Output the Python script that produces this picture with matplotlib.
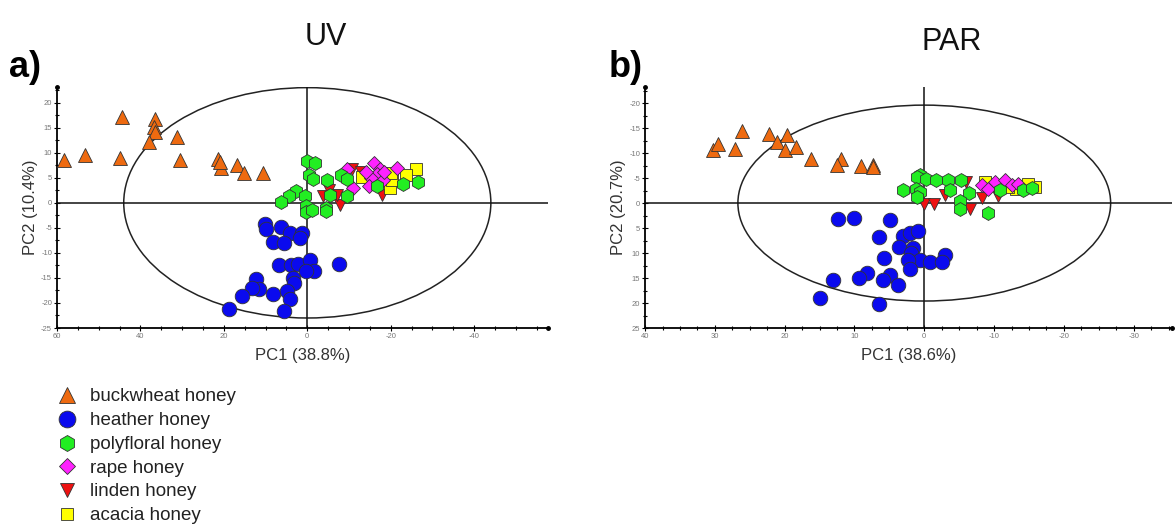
import matplotlib
matplotlib.use('Agg')
import matplotlib.pyplot as plt
from matplotlib.patches import Ellipse
from matplotlib.ticker import MultipleLocator, FuncFormatter

plt.rcParams['font.family'] = ['Liberation Sans', 'DejaVu Sans']

# --- data: PCA scores ---
groups = ['buckwheat honey', 'heather honey', 'polyfloral honey',
          'rape honey', 'linden honey', 'acacia honey']

# a) UV
uv_buckwheat_x = [58.2, 53.4, 44.4, 45.0, 36.6, 36.8, 36.6, 38.0, 31.2, 30.6, 21.4, 20.8, 21.0, 16.8, 15.2, 10.6]
uv_buckwheat_y = [8.6, 9.6, 17.2, 8.9, 16.7, 15.2, 14.2, 12.2, 13.2, 8.6, 8.7, 6.9, 8.2, 7.6, 6.0, 5.9]
uv_heather_x = [10.2, 10.0, 6.2, 4.2, 1.2, 1.8, 8.2, 5.6, 6.8, 4.0, 2.2, -0.6, -1.6, 0.4, -7.6, 3.4,
                3.2, 12.2, 11.6, 13.2, 15.6, 8.2, 4.8, 4.2, 5.6, 18.7]
uv_heather_y = [-4.2, -5.2, -4.9, -6.0, -6.0, -7.1, -7.9, -8.0, -12.4, -12.4, -12.2, -11.4, -13.7, -13.7, -12.2, -15.0,
                -16.0, -15.3, -17.2, -17.0, -18.7, -18.3, -17.7, -19.3, -21.7, -21.2]
uv_poly_x = [0.0, -1.8, -0.4, -1.4, -4.8, -8.0, -9.6, 2.8, 4.4, 6.4, 0.6, 0.2, 0.4, -1.2, -4.6, -4.4,
             -5.4, -9.6, -16.8, -23.0, -26.6]
uv_poly_y = [8.4, 8.0, 5.6, 4.7, 4.6, 5.6, 4.7, 2.3, 1.3, 0.1, 1.4, -0.7, -1.9, -1.5, -1.1, -1.7,
             1.6, 1.4, 3.3, 3.7, 4.1]
uv_rape_x = [-9.6, -11.0, -16.0, -17.4, -16.8, -15.2, -18.2, -21.6, -14.8, -18.4, -14.0]
uv_rape_y = [6.7, 2.9, 7.9, 6.7, 5.7, 4.9, 4.6, 6.9, 3.4, 6.2, 6.2]
uv_linden_x = [-10.6, -12.8, -3.8, -7.8, -18.0, -5.2, -7.2]
uv_linden_y = [6.7, 6.2, 1.3, -0.4, 1.6, 2.6, 1.6]
uv_acacia_x = [-26.0, -13.2, -19.8, -20.4, -23.6, -20.0]
uv_acacia_y = [6.7, 5.2, 2.9, 4.6, 5.6, 5.9]

# b) PAR
par_buckwheat_x = [30.2, 29.6, 27.1, 26.1, 22.3, 21.1, 19.7, 20.0, 18.4, 16.3, 11.9, 12.5, 9.0, 7.4, 7.3]
par_buckwheat_y = [-10.6, -11.9, -10.9, -14.4, -13.9, -12.2, -13.6, -10.7, -11.2, -8.9, -8.9, -7.6, -7.4, -7.6, -7.2]
par_heather_x = [12.4, 10.0, 4.9, 6.5, 3.0, 2.0, 0.9, 3.6, 1.6, 1.9, 5.7, 0.6, -0.8, 2.3, 2.0, -2.9, -2.5,
                 8.2, 9.3, 4.9, 5.9, 3.8, 13.1, 14.9, 6.5]
par_heather_y = [3.1, 2.9, 3.3, 6.7, 6.6, 5.9, 5.6, 8.7, 8.9, 10.0, 11.0, 11.4, 11.7, 11.4, 13.2, 10.4, 11.7,
                 13.9, 15.0, 14.4, 15.3, 16.3, 15.3, 19.0, 20.1]
par_poly_x = [0.6, 1.1, -0.2, -1.7, -3.4, -5.2, 3.0, 1.2, 0.6, 1.1, -3.7, -6.4, -5.1, -5.1, -9.1, -10.9, -14.1, -15.5]
par_poly_y = [-5.7, -5.2, -4.9, -4.7, -4.7, -4.6, -2.7, -2.9, -2.3, -1.3, -2.7, -2.1, -0.5, 1.1, 1.9, -2.7, -2.6, -3.1]
par_rape_x = [-8.2, -10.1, -11.5, -9.1, -12.5, -13.4]
par_rape_y = [-3.6, -4.3, -4.6, -2.9, -3.6, -3.9]
par_linden_x = [0.0, -1.4, -3.0, -6.5, -8.2, -10.5, -6.0]
par_linden_y = [0.2, 0.1, -1.6, 1.1, -1.1, -1.4, -4.3]
par_acacia_x = [-8.7, -15.8, -14.8, -13.2, -12.0]
par_acacia_y = [-4.3, -3.3, -3.9, -2.9, -3.3]

# Hotelling ellipse semi-axes
uv_ellipse = (44.0, 23.0)
par_ellipse = (26.7, 19.6)

# --- styling ---
markers = ['^', 'o', 'h', 'D', 'v', 's']
colors = ['#EE6A10', '#0A0AEE', '#22EE22', '#FF22FF', '#EE1111', '#FFFF00']
sizes = [9.5, 10.5, 10, 7.5, 8.5, 8]
zorders = [4, 4, 6, 5, 4, 4]


def draw_panel(ax, series, ellipse, xlim, ylim, xmaj, xlabel, ylabel):
    ax.add_patch(Ellipse((0, 0), 2 * ellipse[0], 2 * ellipse[1], fill=False,
                         edgecolor='#222222', lw=1.1, zorder=2))
    ax.axhline(0, color='#111111', lw=1.1, zorder=2)
    ax.axvline(0, color='#111111', lw=1.1, zorder=2)
    handles = []
    for i, (xs, ys) in enumerate(series):
        h, = ax.plot(xs, ys, linestyle='none', marker=markers[i], ms=sizes[i],
                     mfc=colors[i], mec='#333333', mew=0.6, zorder=zorders[i],
                     label=groups[i])
        handles.append(h)
    ax.set_xlim(*xlim)
    ax.set_ylim(*ylim)
    for s in ['top', 'right']:
        ax.spines[s].set_visible(False)
    for s in ['left', 'bottom']:
        ax.spines[s].set_linewidth(1.3)
    ax.xaxis.set_major_locator(MultipleLocator(xmaj))
    ax.xaxis.set_minor_locator(MultipleLocator(xmaj / 4))
    ax.yaxis.set_major_locator(MultipleLocator(5))
    ax.yaxis.set_minor_locator(MultipleLocator(2.5))
    fmt = FuncFormatter(lambda v, p: '%d' % round(v))
    ax.xaxis.set_major_formatter(fmt)
    ax.yaxis.set_major_formatter(fmt)
    ax.tick_params(which='major', direction='inout', length=4, width=0.8, labelsize=5.5,
                   labelcolor='#777777', pad=1.5)
    ax.tick_params(which='minor', direction='inout', length=2.5, width=0.8)
    ax.set_xlabel(xlabel, fontsize=12, color='#333333', labelpad=6)
    ax.set_ylabel(ylabel, fontsize=12, color='#333333', labelpad=2)
    # dots at the ends of the axes
    ax.plot([0], [1], marker='o', ms=2.5, color='k', transform=ax.transAxes, clip_on=False)
    ax.plot([1], [0], marker='o', ms=2.5, color='k', transform=ax.transAxes, clip_on=False)
    return handles


fig = plt.figure(figsize=(11.75, 5.26), dpi=100)
ax1 = fig.add_axes([0.0485, 0.3764, 0.4179, 0.4589])
ax2 = fig.add_axes([0.549, 0.3764, 0.4485, 0.4589])

uv_series = [(uv_buckwheat_x, uv_buckwheat_y), (uv_heather_x, uv_heather_y), (uv_poly_x, uv_poly_y),
             (uv_rape_x, uv_rape_y), (uv_linden_x, uv_linden_y), (uv_acacia_x, uv_acacia_y)]
par_series = [(par_buckwheat_x, par_buckwheat_y), (par_heather_x, par_heather_y), (par_poly_x, par_poly_y),
              (par_rape_x, par_rape_y), (par_linden_x, par_linden_y), (par_acacia_x, par_acacia_y)]

handles = draw_panel(ax1, uv_series, uv_ellipse, (60, -57.7), (-25, 23.2), 20, 'PC1 (38.8%)', 'PC2 (10.4%)')
draw_panel(ax2, par_series, par_ellipse, (40, -35.5), (25, -23.3), 10, 'PC1 (38.6%)', 'PC2 (20.7%)')

fig.text(0.277, 0.93, 'UV', fontsize=22, ha='center', va='center', color='#111111')
fig.text(0.81, 0.92, 'PAR', fontsize=22, ha='center', va='center', color='#111111')
fig.text(0.008, 0.872, 'a)', fontsize=26, fontweight='bold', ha='left', va='center')
fig.text(0.518, 0.872, 'b)', fontsize=26, fontweight='bold', ha='left', va='center')

fig.legend(handles=handles, loc='upper left', bbox_to_anchor=(0.0415, 0.276), frameon=False,
           fontsize=13.5, labelspacing=0.36, handletextpad=0.65, borderaxespad=0, handlelength=1.15,
           handleheight=0.6, markerscale=1.15, labelcolor='#222222')

fig.savefig('out.png', dpi=100)
